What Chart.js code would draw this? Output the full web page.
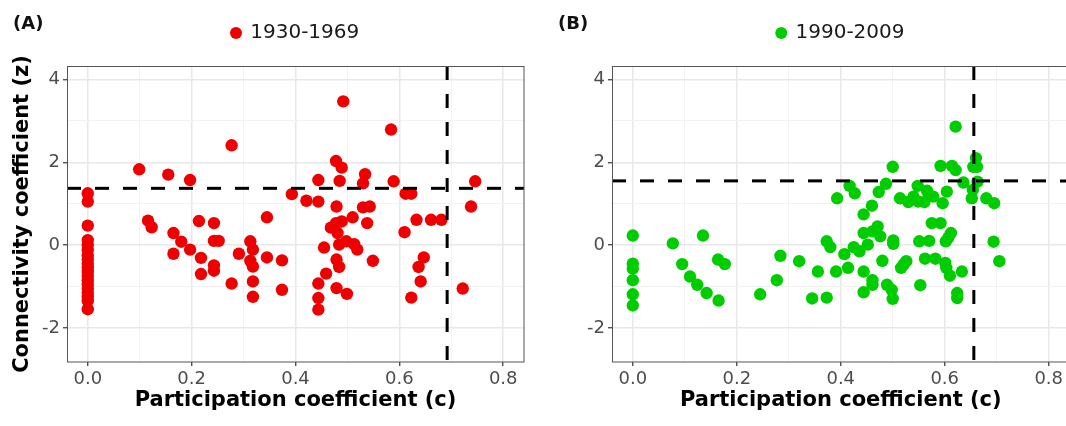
<!DOCTYPE html>
<html>
<head>
<meta charset="utf-8">
<script src="https://cdn.jsdelivr.net/npm/chart.js@4.4.1/dist/chart.umd.min.js"></script>
<style>
  html, body { margin: 0; padding: 0; background: #fff; overflow: hidden; }
  #wrap { position: relative; width: 1066px; height: 426px; overflow: hidden; }
  canvas { position: absolute; top: 0; }
  #chartA { left: 0; }
  #chartB { left: 545px; }
</style>
</head>
<body>
<div id="wrap">
  <canvas id="chartA" width="533" height="426"></canvas>
  <canvas id="chartB" width="540" height="426"></canvas>
</div>
<script>
// tick values (labels only on the even ones)
const xTicks = [0, 0.1, 0.2, 0.3, 0.4, 0.5, 0.6, 0.7, 0.8];
const yTicks = [-2, -1, 0, 1, 2, 3, 4];

// panel A: 1930-1969
const cA = [0, 0, 0, 0, 0, 0, 0, 0, 0, 0, 0, 0, 0, 0, 0, 0, 0, 0, 0,
  0.099, 0.155, 0.197, 0.277, 0.393, 0.116, 0.123, 0.165, 0.180, 0.165, 0.197,
  0.214, 0.218, 0.218, 0.243, 0.243, 0.252, 0.243, 0.243, 0.277, 0.291, 0.313, 0.318,
  0.313, 0.318, 0.318, 0.318, 0.345, 0.345, 0.374, 0.374,
  0.492, 0.584, 0.478, 0.489, 0.444, 0.485, 0.534, 0.530, 0.589, 0.746, 0.612, 0.623,
  0.421, 0.444, 0.479, 0.530, 0.543, 0.738, 0.510, 0.538, 0.489, 0.478, 0.468, 0.481,
  0.633, 0.661, 0.681, 0.610, 0.455, 0.484, 0.498, 0.513, 0.519, 0.549, 0.479, 0.484,
  0.459, 0.647, 0.637, 0.641, 0.444, 0.479, 0.499, 0.444, 0.444, 0.623, 0.722];
const zA = [1.25, 1.05, 0.47, 0.12, 0.0, -0.12, -0.25, -0.35, -0.45, -0.55, -0.65, -0.75, -0.85, -0.95, -1.05, -1.15, -1.25, -1.35, -1.55,
  1.83, 1.70, 1.57, 2.41, 1.23, 0.59, 0.43, 0.29, 0.08, -0.21, -0.11,
  0.58, -0.31, -0.70, 0.53, 0.10, 0.10, -0.49, -0.62, -0.93, -0.21, 0.09, -0.11,
  -0.38, -0.52, -0.88, -1.25, 0.67, -0.30, -0.37, -1.08,
  3.47, 2.79, 2.03, 1.87, 1.57, 1.55, 1.71, 1.49, 1.54, 1.54, 1.24, 1.24,
  1.07, 1.05, 0.93, 0.91, 0.93, 0.93, 0.67, 0.53, 0.57, 0.53, 0.42, 0.29,
  0.61, 0.61, 0.61, 0.31, -0.06, 0.01, 0.09, 0.02, -0.11, -0.38, -0.35, -0.53,
  -0.69, -0.30, -0.53, -0.88, -0.93, -1.04, -1.18, -1.28, -1.56, -1.27, -1.05];

// panel B: 1990-2009
const cB = [0, 0, 0, 0, 0, 0,
  0.077, 0.095, 0.110, 0.124, 0.135, 0.142, 0.164, 0.177, 0.165, 0.245, 0.277, 0.284,
  0.320, 0.356, 0.345, 0.373, 0.373, 0.380,
  0.391, 0.393, 0.407, 0.414, 0.417, 0.427, 0.425, 0.436, 0.444, 0.444, 0.444, 0.444,
  0.452, 0.460, 0.461, 0.471, 0.476, 0.461, 0.461, 0.473, 0.480, 0.487, 0.500, 0.501,
  0.501, 0.489, 0.498, 0.500, 0.514, 0.516, 0.526, 0.521, 0.530, 0.540, 0.549, 0.548,
  0.551, 0.553, 0.561, 0.562, 0.566, 0.570, 0.575, 0.592, 0.578, 0.582, 0.592, 0.596,
  0.601, 0.603, 0.602, 0.607, 0.612, 0.604, 0.610, 0.614, 0.621, 0.621, 0.624, 0.624,
  0.633, 0.636, 0.652, 0.654, 0.655, 0.662, 0.660, 0.663, 0.680, 0.695, 0.694, 0.705];
const zB = [0.23, -0.45, -0.57, -0.85, -1.19, -1.46,
  0.04, -0.46, -0.76, -0.96, 0.23, -1.16, -0.35, -0.46, -1.34, -1.19, -0.85, -0.26,
  -0.39, -0.64, -1.29, -1.27, 0.09, -0.05,
  -0.64, 1.13, -0.22, -0.55, 1.43, 1.25, -0.05, -0.15, 0.29, 0.74, -0.64, -1.14,
  0.01, 0.95, 0.33, 0.45, 0.21, -0.85, -0.96, 1.28, -0.38, 1.48, 1.89, 0.11,
  0.03, -0.96, -1.08, -1.30, 1.13, -0.55, -0.39, -0.47, 1.04, 1.17, 1.05, 1.43,
  0.09, -0.97, 1.04, -0.33, 1.31, 0.10, 0.53, 0.53, 1.17, -0.33, 1.91, 1.01,
  -0.43, -0.55, 0.09, 0.18, 0.29, 1.29, -0.74, 1.91, 1.81, 2.86, -1.16, -1.28,
  -0.64, 1.51, 1.13, 1.33, 1.89, 1.89, 2.10, 1.53, 1.13, 1.01, 0.08, -0.39];

// dashed cut-off lines
const cutC = [0.692, 0.656];
const cutZ = [1.37, 1.55];

const X_MIN = -0.04, X_MAX = 0.84;
const Y_MIN = -2.825, Y_MAX = 4.325;

Chart.defaults.font.family = '"DejaVu Sans", sans-serif';

const panelDecor = {
  id: 'panelDecor',
  afterDraw(chart, args, opts) {
    const { ctx, chartArea: a } = chart;
    ctx.save();
    ctx.strokeStyle = '#555';
    ctx.lineWidth = 1;
    const l = Math.round(a.left) + 0.5, t = Math.round(a.top) + 0.5;
    ctx.strokeRect(l, t, Math.round(a.right) - l, Math.round(a.bottom) - t);
    ctx.font = 'bold 18px "DejaVu Sans"';
    ctx.fillStyle = '#111';
    ctx.textBaseline = 'middle';
    ctx.fillText(opts.tag, 13, 24);
    ctx.restore();
  }
};

const isMajorX = v => Math.round(v * 10) % 2 === 0;
const isMajorY = v => Math.round(v) % 2 === 0;

function makePanel(id, tag, label, color, cs, zs, vc, hz, yTitle, padRight) {
  const pts = cs.map((c, i) => ({ x: c, y: zs[i] }));
  return new Chart(document.getElementById(id), {
    type: 'scatter',
    data: {
      datasets: [
        { label: label, data: pts, order: 1, backgroundColor: color, borderColor: color,
          borderWidth: 0, pointRadius: 6.2, pointHoverRadius: 6.2 },
        { label: 'hline', data: [{ x: X_MIN, y: hz }, { x: X_MAX, y: hz }], showLine: true,
          borderColor: '#000', borderWidth: 3, borderDash: [14, 14], pointRadius: 0, order: 0 },
        { label: 'vline', data: [{ x: vc, y: Y_MAX }, { x: vc, y: Y_MIN }], showLine: true,
          borderColor: '#000', borderWidth: 3, borderDash: [14, 14], pointRadius: 0, order: 0 }
      ]
    },
    options: {
      responsive: false,
      animation: false,
      layout: { padding: { top: 13, left: 0, right: padRight, bottom: 0 } },
      plugins: {
        tooltip: { enabled: false },
        panelDecor: { tag: tag },
        legend: {
          position: 'top',
          fullSize: false,
          labels: {
            usePointStyle: true, pointStyle: 'circle', boxWidth: 8.5, boxHeight: 8.5,
            padding: 10, color: '#1a1a1a', font: { size: 20 },
            filter: item => item.datasetIndex === 0
          }
        }
      },
      scales: {
        x: {
          type: 'linear', min: X_MIN, max: X_MAX,
          afterBuildTicks: s => { s.ticks = xTicks.map(v => ({ value: v })); },
          afterFit: s => { s.height = 64; },
          ticks: { autoSkip: false, maxRotation: 0, padding: 3, color: '#4d4d4d', font: { size: 18 },
            callback: v => isMajorX(v) ? v.toFixed(1) : '' },
          grid: {
            color: c => isMajorX(c.tick.value) ? '#e8e8e8' : '#f2f2f2',
            lineWidth: c => isMajorX(c.tick.value) ? 1.5 : 1,
            tickLength: 4,
            tickColor: c => isMajorX(c.tick.value) ? '#333' : 'rgba(0,0,0,0)',
            tickWidth: 1.2
          },
          border: { display: false },
          title: { display: true, text: 'Participation coefficient (c)', color: '#000',
            font: { size: 21, weight: 'bold' }, padding: { top: 0, bottom: 13 } }
        },
        y: {
          type: 'linear', min: Y_MIN, max: Y_MAX,
          afterBuildTicks: s => { s.ticks = yTicks.map(v => ({ value: v })); },
          afterFit: s => { s.width = 67; },
          ticks: { autoSkip: false, padding: 3, color: '#4d4d4d', font: { size: 18 },
            callback: v => isMajorY(v) ? String(v) : '' },
          grid: {
            color: c => isMajorY(c.tick.value) ? '#e8e8e8' : '#f2f2f2',
            lineWidth: c => isMajorY(c.tick.value) ? 1.5 : 1,
            tickLength: 4,
            tickColor: c => isMajorY(c.tick.value) ? '#333' : 'rgba(0,0,0,0)',
            tickWidth: 1.2
          },
          border: { display: false },
          title: { display: yTitle, text: 'Connectivity coefficient (z)', color: '#000',
            font: { size: 21, weight: 'bold' }, padding: { top: 10, bottom: 0 } }
        },
        spacer: {
          type: 'linear', position: 'top', display: true,
          grid: { display: false }, border: { display: false }, ticks: { display: false },
          afterFit: s => { s.height = 13; }
        }
      }
    },
    plugins: [panelDecor]
  });
}

makePanel('chartA', '(A)', '1930-1969', '#ee0000', cA, zA, cutC[0], cutZ[0], true, 9);
makePanel('chartB', '(B)', '1990-2009', '#00cd00', cB, zB, cutC[1], cutZ[1], false, 15.5);
</script>
</body>
</html>
